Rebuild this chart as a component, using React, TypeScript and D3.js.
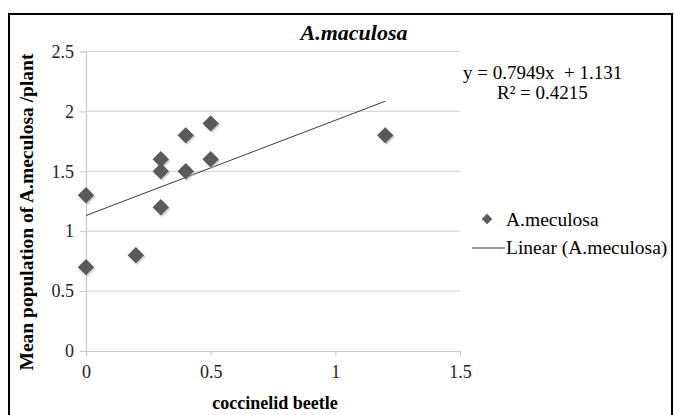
import React, { useEffect, useRef } from 'react';
import * as d3 from 'd3';

const beetle = [0, 0, 0.2, 0.3, 0.3, 0.3, 0.4, 0.4, 0.5, 0.5, 1.2];
const aphid = [1.3, 0.7, 0.8, 1.6, 1.5, 1.2, 1.8, 1.5, 1.9, 1.6, 1.8];
const xTicks = [0, 0.5, 1, 1.5];
const yTicks = [0, 0.5, 1, 1.5, 2, 2.5];
const slope = 0.7949;
const intercept = 1.131;

const W = 674;
const H = 415;
const serif = '"Liberation Serif", "Times New Roman", serif';

export default function App() {
  const svgRef = useRef<SVGSVGElement>(null);

  useEffect(() => {
    document.body.style.margin = '0';
    if (!svgRef.current) return;
    const svg = d3.select(svgRef.current);
    svg.selectAll('*').remove();

    const x = d3.scaleLinear().domain([0, 1.5]).range([86, 460]);
    const y = d3.scaleLinear().domain([0, 2.5]).range([351, 51.5]);

    svg.append('rect').attr('width', W).attr('height', H).attr('fill', '#fff');
    // outer frame
    svg.append('rect')
      .attr('x', 9).attr('y', 14).attr('width', W - 11).attr('height', H)
      .attr('fill', 'none').attr('stroke', '#000').attr('stroke-width', 2);

    // gridlines
    svg.append('g').selectAll('line').data(yTicks.filter(d => d > 0)).join('line')
      .attr('x1', x(0)).attr('x2', x(1.5))
      .attr('y1', d => y(d)).attr('y2', d => y(d))
      .attr('stroke', '#d9d9d9').attr('stroke-width', 1.2);

    // axes
    const yAxis = svg.append('g').attr('transform', `translate(${x(0)},0)`)
      .call(d3.axisLeft(y).tickValues(yTicks).tickSize(6).tickFormat(d => String(d)));
    const xAxis = svg.append('g').attr('transform', `translate(0,${y(0)})`)
      .call(d3.axisBottom(x).tickValues(xTicks).tickSize(5).tickFormat(d => String(d)));
    [yAxis, xAxis].forEach(a => {
      a.select('.domain').attr('stroke', '#c8c8c8').attr('stroke-width', 1.2);
      a.selectAll('.tick line').attr('stroke', '#c8c8c8');
      a.selectAll('.tick text').attr('fill', '#222').style('font-family', serif).style('font-size', '18px');
    });
    yAxis.selectAll('.tick text').attr('x', -12);
    xAxis.selectAll('.tick text').attr('y', 14);

    // trendline
    const xs = [d3.min(beetle)!, d3.max(beetle)!];
    svg.append('path')
      .attr('d', d3.line<number>().x(d => x(d)).y(d => y(slope * d + intercept))(xs))
      .attr('stroke', '#3a3a3a').attr('stroke-width', 1).attr('fill', 'none');

    // points
    const diamond = d3.symbol().type(d3.symbolSquare).size(135);
    const pts = beetle.map((b, i) => [b, aphid[i]] as [number, number]);
    svg.append('g').selectAll('path').data(pts).join('path')
      .attr('d', diamond)
      .attr('transform', d => `translate(${x(d[0]) + 1.5},${y(d[1]) + 1.5}) rotate(45)`)
      .attr('fill', '#aaa').attr('opacity', 0.5);
    svg.append('g').selectAll('path').data(pts).join('path')
      .attr('d', diamond)
      .attr('transform', d => `translate(${x(d[0])},${y(d[1])}) rotate(45)`)
      .attr('fill', '#5a5a5a');

    // title
    svg.append('text').attr('x', 354).attr('y', 40).attr('text-anchor', 'middle')
      .style('font-family', serif).style('font-size', '22px')
      .style('font-weight', 'bold').style('font-style', 'italic')
      .text('A.maculosa');

    // axis titles
    svg.append('text').attr('x', 275).attr('y', 409).attr('text-anchor', 'middle')
      .style('font-family', serif).style('font-size', '18px').style('font-weight', 'bold')
      .text('coccinelid beetle');
    svg.append('text').attr('transform', 'translate(33,212) rotate(-90)').attr('text-anchor', 'middle')
      .style('font-family', serif).style('font-size', '19.5px').style('font-weight', 'bold')
      .text('Mean population of A.meculosa /plant');

    // equation
    svg.append('text').attr('x', 463).attr('y', 79)
      .style('font-family', serif).style('font-size', '19px')
      .attr('xml:space', 'preserve')
      .text(`y = ${slope}x  + ${intercept}`);
    svg.append('text').attr('x', 497).attr('y', 99)
      .style('font-family', serif).style('font-size', '19px')
      .text('R² = 0.4215');

    // legend
    const lg = svg.append('g');
    lg.append('path').attr('d', d3.symbol().type(d3.symbolSquare).size(56)())
      .attr('transform', 'translate(487,219) rotate(45)').attr('fill', '#5a5a5a');
    lg.append('text').attr('x', 506).attr('y', 226)
      .style('font-family', serif).style('font-size', '19.5px').text('A.meculosa');
    lg.append('line').attr('x1', 472).attr('x2', 505).attr('y1', 248).attr('y2', 248)
      .attr('stroke', '#3a3a3a');
    lg.append('text').attr('x', 506).attr('y', 254)
      .style('font-family', serif).style('font-size', '19.5px').text('Linear (A.meculosa)');
  }, []);

  return <svg ref={svgRef} width={W} height={H} style={{ display: 'block' }} />;
}
